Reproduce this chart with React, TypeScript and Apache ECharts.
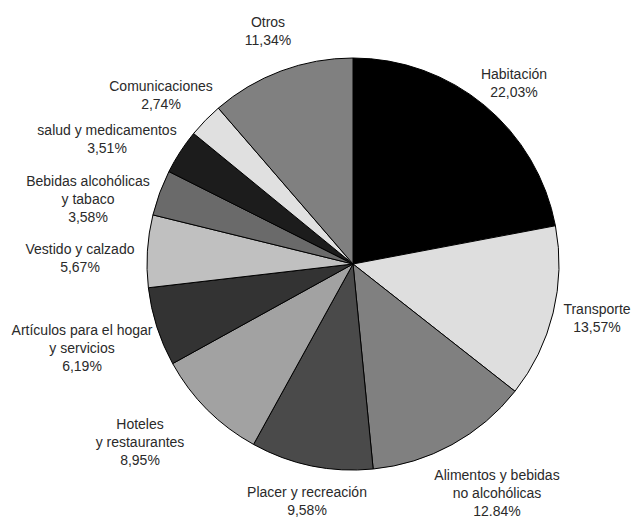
import React, { useEffect, useRef } from "react";
import * as echarts from "echarts";

const categories = [
  "Habitación",
  "Transporte",
  "Alimentos y bebidas\nno alcohólicas",
  "Placer y recreación",
  "Hoteles\ny restaurantes",
  "Artículos para el hogar\ny servicios",
  "Vestido y calzado",
  "Bebidas alcohólicas\ny tabaco",
  "salud y medicamentos",
  "Comunicaciones",
  "Otros",
];

const values = [22.03, 13.57, 12.84, 9.58, 8.95, 6.19, 5.67, 3.58, 3.51, 2.74, 11.34];

const percentTexts = [
  "22,03%", "13,57%", "12.84%", "9,58%", "8,95%", "6,19%",
  "5,67%", "3,58%", "3,51%", "2,74%", "11,34%",
];

const colors = [
  "#000000", "#dedede", "#808080", "#4a4a4a", "#a2a2a2", "#333333",
  "#c0c0c0", "#6a6a6a", "#1c1c1c", "#e0e0e0", "#808080",
];

// label block centers (layout)
const labelPos: [number, number][] = [
  [514, 83],
  [597, 318],
  [497, 493],
  [307, 501],
  [140, 442],
  [82, 348],
  [80, 258],
  [88, 199],
  [107, 139],
  [161, 95],
  [268, 31],
];

export default function App() {
  const ref = useRef<HTMLDivElement>(null);
  useEffect(() => {
    if (!ref.current) return;
    const chart = echarts.init(ref.current, null, { renderer: "svg" });
    chart.setOption({
      animation: false,
      backgroundColor: "#ffffff",
      series: [
        {
          type: "pie",
          center: [353, 264],
          radius: 206,
          startAngle: 90,
          clockwise: true,
          data: categories.map((c, i) => ({
            name: c,
            value: values[i],
            itemStyle: { color: colors[i] },
          })),
          itemStyle: { borderColor: "#000", borderWidth: 1 },
          label: {
            show: true,
            position: "outside",
            overflow: "none",
            width: 200,
            formatter: (p: any) => `${p.name}\n${percentTexts[p.dataIndex]}`,
            fontFamily: "Liberation Sans, Arial, sans-serif",
            fontSize: 14,
            lineHeight: 18,
            color: "#2a2a2a",
            align: "center",
          },
          labelLine: { show: false },
          labelLayout: (params: any) => {
            const [x, y] = labelPos[params.dataIndex];
            return { x, y, align: "center", verticalAlign: "middle" };
          },
          emphasis: { disabled: true },
        },
      ],
    });
    return () => chart.dispose();
  }, []);
  return (
    <div
      ref={ref}
      style={{ position: "fixed", left: 0, top: 0, width: 632, height: 519 }}
    />
  );
}
